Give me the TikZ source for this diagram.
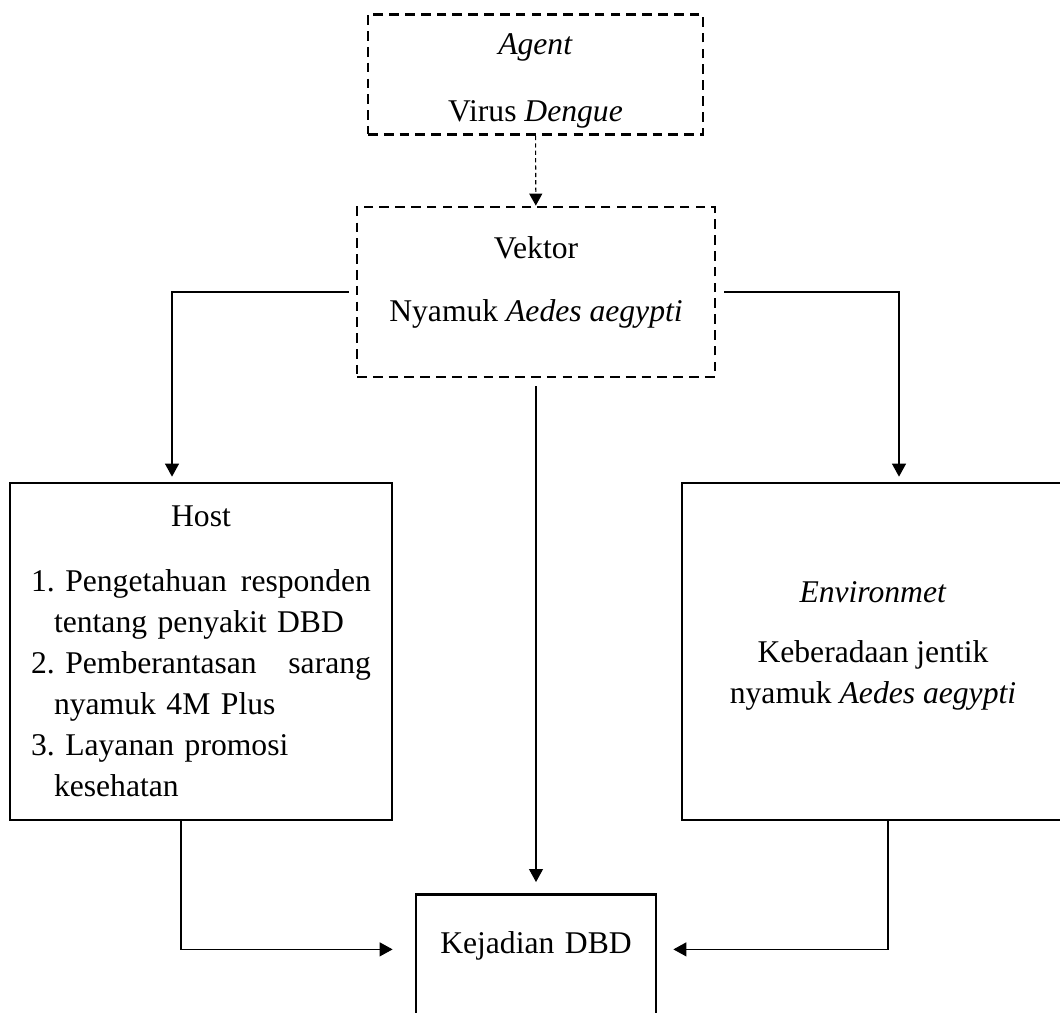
\documentclass[tikz,border=0pt]{standalone}
\usepackage{fontspec}
\setmainfont{Liberation Serif}
\usetikzlibrary{arrows.meta}

\begin{document}
\begin{tikzpicture}[x=0.02cm,y=-0.02cm,
  every node/.style={font=\fontsize{18}{23.3}\selectfont},
  dashbox/.style={draw, line width=1.6pt, dash pattern=on 5.5pt off 3.5pt, inner ysep=0pt},
  solidbox/.style={draw, line width=1.6pt},
  link/.style={line width=0.6pt, -{Triangle[length=0.26cm,width=0.28cm]}},
  dashlink/.style={line width=0.6pt, dash pattern=on 2.4pt off 1.8pt, -{Triangle[length=0.24cm,width=0.26cm]}}]
  \useasboundingbox (0,0) rectangle (1060,1012);
  \clip (0,0) rectangle (1060,1012);
  \node (agent) [dashbox, minimum width=6.7cm, text height=0.8cm, text depth=1.6cm] at (535.5,74.5)
    {\begin{tabular}[t]{@{}c@{}}\textit{Agent}\\[0.52cm]Virus \textit{Dengue}\end{tabular}};
  \node (vek) [dashbox, minimum width=7.16cm, text height=1.02cm, text depth=2.38cm] at (536,292)
    {\begin{tabular}[t]{@{}c@{}}Vektor\\[0.46cm]Nyamuk \textit{Aedes aegypti}\end{tabular}};
  \node (host) [solidbox, text width=6.8cm, inner xsep=0.42cm, minimum height=6.74cm, align=left] at (201,651.5)
    {\hspace*{\fill}Host\hspace*{\fill}\null\\[0.48cm]
     1.~Pengetahuan\hfill responden\\
     \hspace*{0.46cm}tentang penyakit DBD\\
     2.~Pemberantasan\hfill sarang\\
     \hspace*{0.46cm}nyamuk 4M Plus\\
     3.~Layanan promosi\\
     \hspace*{0.46cm}kesehatan};
  \node (env) [solidbox, minimum width=7.64cm, inner ysep=0pt, text height=2.38cm, text depth=4.36cm] at (873,651.5)
    {\begin{tabular}[t]{@{}c@{}}\textit{Environmet}\\[0.4cm]Keberadaan jentik\\nyamuk \textit{Aedes aegypti}\end{tabular}};
  \node (kej) [solidbox, anchor=north, text width=4.8cm, inner sep=0pt, text height=1.18cm, text depth=1.76cm, align=center] at (536,893)
    {Kejadian DBD};
  \draw[dashlink] (agent) -- (vek);
  \draw[link, shorten >=0.1cm] ([xshift=-0.14cm]vek.west) -| ([xshift=-0.58cm]host.north);
  \draw[link, shorten >=0.1cm] ([xshift=0.16cm]vek.east) -| ([xshift=0.52cm]env.north);
  \draw[link, shorten <=0.16cm, shorten >=0.22cm] (vek) -- (kej);
  \draw[link, shorten >=0.44cm] ([xshift=-0.4cm]host.south) |- (kej.mid west);
  \draw[link, shorten >=0.32cm] ([xshift=0.3cm]env.south) |- (kej.mid east);
\end{tikzpicture}
\end{document}
